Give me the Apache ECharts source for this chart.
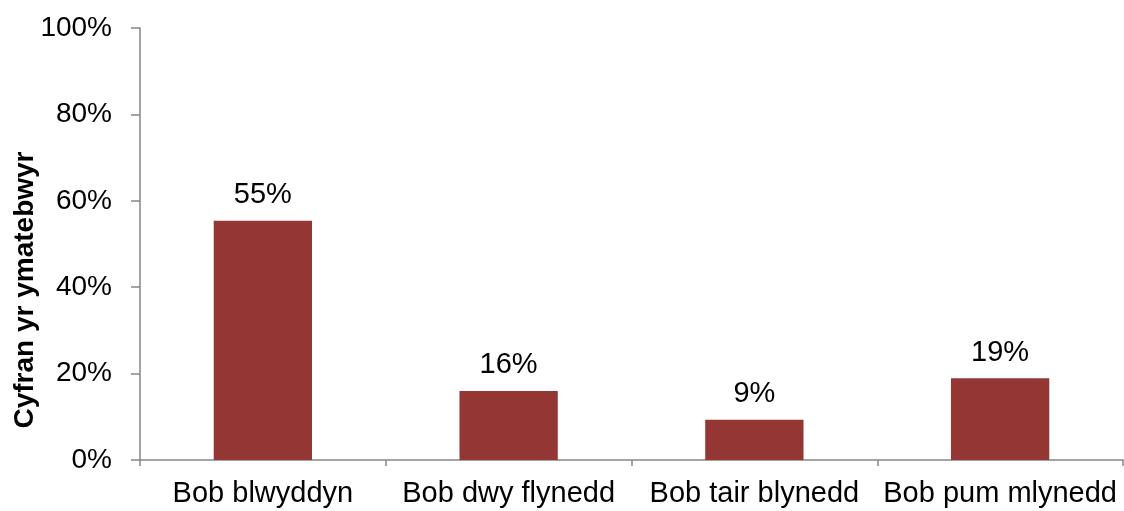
<!DOCTYPE html>
<html>
<head>
<meta charset="utf-8">
<script src="https://cdn.jsdelivr.net/npm/echarts@6/dist/echarts.min.js"></script>
<style>
html,body{margin:0;padding:0;background:#fff;}
#chart{width:1124px;height:511px;}
</style>
</head>
<body>
<div id="chart"></div>
<script>
const categories = ['Bob blwyddyn', 'Bob dwy flynedd', 'Bob tair blynedd', 'Bob pum mlynedd'];
const values = [55.4, 16.0, 9.3, 18.9];
const yTicks = [0, 20, 40, 60, 80, 100];
const yAxisTitle = 'Cyfran yr ymatebwyr';

const chart = echarts.init(document.getElementById('chart'), null, {renderer: 'canvas'});
const font = '"Liberation Sans", Arial, sans-serif';
chart.setOption({
  animation: false,
  grid: {left: 140, right: 1, top: 28, bottom: 51, containLabel: false, outerBoundsMode: 'none'},
  xAxis: {
    type: 'category',
    data: categories,
    axisLine: {lineStyle: {color: '#868686', width: 1.5}},
    axisTick: {show: true, length: 6, lineStyle: {color: '#868686', width: 1.5}},
    axisLabel: {color: '#000', fontFamily: font, fontSize: 29, margin: 19, interval: 0}
  },
  yAxis: {
    type: 'value',
    min: yTicks[0],
    max: yTicks[yTicks.length - 1],
    interval: 20,
    name: yAxisTitle,
    nameLocation: 'middle',
    nameGap: 101,
    nameMoveOverlap: false,
    nameTextStyle: {color: '#000', fontFamily: font, fontSize: 28, fontWeight: 'bold', padding: [0, 92, 0, 0]},
    axisLine: {show: true, lineStyle: {color: '#868686', width: 1.5}},
    axisTick: {show: true, length: 9, lineStyle: {color: '#868686', width: 1.5}},
    splitLine: {show: false},
    axisLabel: {color: '#000', fontFamily: font, fontSize: 28, margin: 28, formatter: v => v + '%'}
  },
  series: [{
    type: 'bar',
    data: values,
    barWidth: '40%',
    itemStyle: {color: '#943634'},
    label: {
      show: true, position: 'top', distance: 11,
      color: '#000', fontFamily: font, fontSize: 29,
      formatter: p => Math.round(p.value) + '%'
    }
  }]
});
</script>
</body>
</html>
